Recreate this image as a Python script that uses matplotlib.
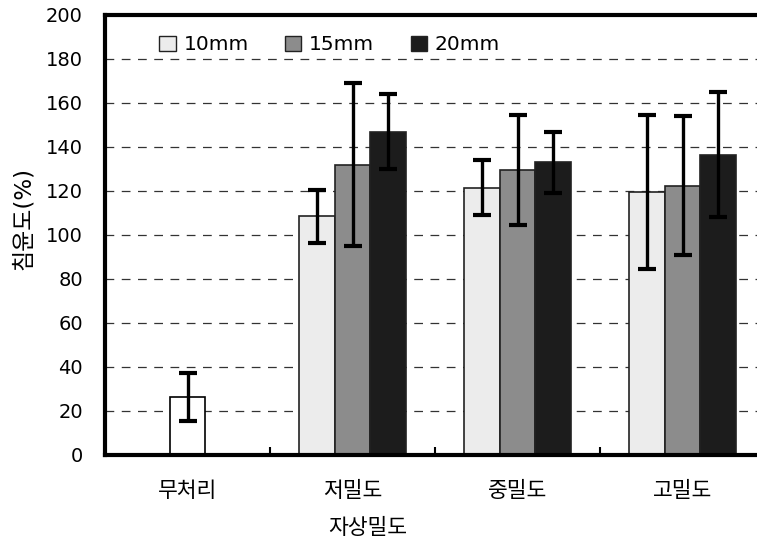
import numpy as np
import matplotlib
matplotlib.use("Agg")
import matplotlib.pyplot as plt
from matplotlib.patches import Patch

plt.rcParams['font.family'] = ['DejaVu Sans', 'Noto Sans CJK KR']

categories = ["무처리", "저밀도", "중밀도", "고밀도"]
series = ["10mm", "15mm", "20mm"]

control_mean = 26.5
control_err = 11

mean_10 = [108.5, 121.5, 119.5]
err_10 = [12, 12.5, 35]
mean_15 = [132, 129.5, 122.5]
err_15 = [37, 25, 31.5]
mean_20 = [147, 133, 136.5]
err_20 = [17, 14, 28.5]

colors = ["#ececec", "#8c8c8c", "#1c1c1c"]

fig = plt.figure(figsize=(7.57, 5.44), dpi=100)
ax = fig.add_axes([105 / 757, 89 / 544, 660 / 757, 440 / 544])

w = 0.218
ekw = dict(ecolor="black", elinewidth=2.4, capsize=6.5, capthick=3)

ax.bar(0, control_mean, w, color="white", edgecolor="black", linewidth=1.2, zorder=2)
ax.errorbar(0, control_mean, yerr=control_err, fmt="none", zorder=3, **ekw)

x = np.arange(1, 4)
for i, (m, e) in enumerate([(mean_10, err_10), (mean_15, err_15), (mean_20, err_20)]):
    pos = x + (i - 1) * w
    ax.bar(pos, m, w, color=colors[i], edgecolor="#222222", linewidth=1.2, zorder=2)
    ax.errorbar(pos, m, yerr=e, fmt="none", zorder=3, **ekw)

ax.set_xlim(-0.5, 3.5)
ax.set_ylim(0, 200)
ax.set_yticks(np.arange(0, 201, 20))
ax.yaxis.grid(True, linestyle=(0, (7, 6)), color="#333333", linewidth=0.9, zorder=0)
ax.set_axisbelow(True)

ax.set_xticks(range(4))
ax.set_xticklabels(categories, fontsize=15.5)
ax.set_xticks([0.5, 1.5, 2.5], minor=True)
ax.tick_params(axis="x", which="major", length=0, pad=19)
ax.tick_params(axis="x", which="minor", direction="in", length=6, width=1.5)
ax.tick_params(axis="y", length=0, pad=16, labelsize=14)

for s in ["left", "top", "bottom"]:
    ax.spines[s].set_linewidth(3)
ax.spines["right"].set_visible(False)

fig.text(368 / 757, 1 - 528 / 544, "자상밀도", fontsize=15.5, ha="center", va="center")
fig.text(23 / 757, 1 - 218 / 544, "침윤도(%)", fontsize=16.5, ha="center", va="center",
         rotation=90)

handles = [Patch(facecolor=c, edgecolor="#222222", linewidth=1) for c in colors]
ax.legend(handles, series, loc="upper left", bbox_to_anchor=(0.055, 0.995), ncol=3,
          frameon=False, fontsize=14.5, handlelength=0.8, handleheight=0.8,
          handletextpad=0.4, columnspacing=1.8)

fig.savefig("out.png", dpi=100)
